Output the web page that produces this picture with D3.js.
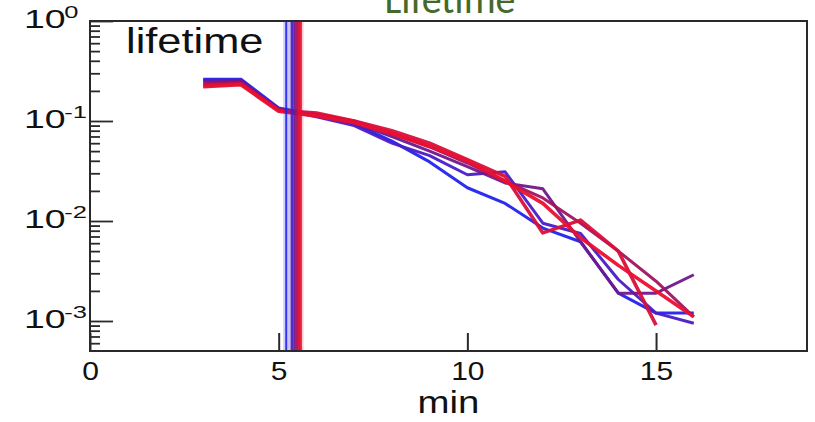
<!DOCTYPE html>
<html>
<head>
<meta charset="utf-8">
<script src="https://cdn.jsdelivr.net/npm/d3@7"></script>
<style>
  html, body { margin: 0; padding: 0; background: #fff; }
  svg { display: block; }
</style>
</head>
<body>
<div id="chart"></div>
<script>
// Lifetime distributions (fraction of events vs. lifetime in minutes), one run per array.
const minutes = [3, 4, 5, 6, 7, 8, 9, 10, 11, 12, 13, 14, 15, 16];
const runBlue    = [0.262, 0.262, 0.135, 0.115, 0.094, 0.063, 0.039, 0.0215, 0.015, 0.0085, 0.0062, 0.0019, 0.0012, 0.0012];
const runIndigo  = [0.255, 0.255, 0.132, 0.110, 0.090, 0.060, 0.045, 0.029, 0.031, 0.0095, 0.0075, 0.0026, 0.0012, 0.00095];
const runPurple  = [0.245, 0.250, 0.130, 0.115, 0.096, 0.070, 0.050, 0.035, 0.024, 0.021, 0.0062, 0.0019, 0.0019, 0.0029];
const runCrimson = [0.235, 0.240, 0.130, 0.117, 0.100, 0.075, 0.055, 0.038, 0.025, 0.017, 0.0095, 0.0050, 0.0025, 0.0011];
const runRed     = [0.225, 0.235, 0.128, 0.120, 0.100, 0.080, 0.060, 0.041, 0.028, 0.0076, 0.0102, 0.0050, 0.00091];
const runScarlet = [0.220, 0.230, 0.125, 0.112, 0.096, 0.075, 0.056, 0.040, 0.025, 0.015, 0.0068, 0.0036, 0.0020, 0.0011];
const runs = [runBlue, runIndigo, runPurple, runCrimson, runRed, runScarlet];
const runColors = ["#2222ee", "#4a1cc8", "#70188c", "#a0145e", "#d8103a", "#ea1030"];

// Mean lifetime of each run (minutes), drawn as vertical markers.
const meanLifetime = [5.2, 5.35, 5.42, 5.48, 5.53, 5.58];

const xTicks = [0, 5, 10, 15];
const yDecades = [0, -1, -2, -3];

const W = 815, H = 422;
const margin = { left: 90, right: 8, top: 21, bottom: 71 };

const svg = d3.select("#chart").append("svg")
  .attr("width", W).attr("height", H);

const x = d3.scaleLinear().domain([0, 19]).range([margin.left, W - margin.right]);
const y = d3.scaleLog().domain([Math.pow(10, -3.3), 1]).range([H - margin.bottom, margin.top]);

const axisColor = "#2a2a2a";
const labelFont = "'Liberation Sans', Arial, Helvetica, sans-serif";

// Page title, partly above the top edge
svg.append("text")
  .attr("x", 450).attr("y", 13)
  .attr("text-anchor", "middle")
  .attr("font-family", "Carlito, 'Open Sans', sans-serif")
  .attr("font-size", 40)
  .attr("fill", "#44692a")
  .text("Lifetime");

// Data runs
const line = d3.line()
  .x((d, i) => x(minutes[i]))
  .y(d => y(d));

svg.append("g").selectAll("path")
  .data(runs)
  .join("path")
  .attr("d", d => line(d))
  .attr("fill", "none")
  .attr("stroke", (d, i) => runColors[i])
  .attr("stroke-width", (d, i) => i >= 4 ? 3.6 : 3)
  .attr("stroke-linejoin", "round")
  .attr("stroke-opacity", 0.95);

// Mean-lifetime markers: soft halo plus a solid core
const markers = svg.append("g");
markers.selectAll("line.halo")
  .data(meanLifetime)
  .join("line")
  .attr("class", "halo")
  .attr("x1", d => x(d)).attr("x2", d => x(d))
  .attr("y1", margin.top).attr("y2", H - margin.bottom)
  .attr("stroke", (d, i) => runColors[i])
  .attr("stroke-width", 6)
  .attr("stroke-opacity", 0.22);
markers.selectAll("line.core")
  .data(meanLifetime)
  .join("line")
  .attr("class", "core")
  .attr("x1", d => x(d)).attr("x2", d => x(d))
  .attr("y1", margin.top).attr("y2", H - margin.bottom)
  .attr("stroke", (d, i) => runColors[i])
  .attr("stroke-width", (d, i) => i === 0 ? 2 : 2.6)
  .attr("stroke-opacity", 0.9);

// Frame
svg.append("rect")
  .attr("x", x(0)).attr("y", y.range()[1])
  .attr("width", x(19) - x(0))
  .attr("height", y.range()[0] - y.range()[1])
  .attr("fill", "none")
  .attr("stroke", axisColor)
  .attr("stroke-width", 2);

// Bottom axis: ticks point into the plot
const xAxis = d3.axisBottom(x).tickValues(xTicks).tickSize(-18).tickFormat("");
const gx = svg.append("g")
  .attr("transform", `translate(0,${H - margin.bottom})`)
  .call(xAxis);
gx.select(".domain").remove();
gx.selectAll(".tick line").attr("stroke", axisColor).attr("stroke-width", 2);

// X tick labels, slightly widened
gx.selectAll(".tick").append("g")
  .attr("transform", "translate(0,29) scale(1.2,1)")
  .append("text")
  .attr("text-anchor", "middle")
  .attr("font-family", labelFont)
  .attr("font-size", 25)
  .attr("fill", "#111")
  .text(d => d);

// Left axis: log ticks, majors longer, pointing inward
const yTickVals = [];
yDecades.forEach(e => {
  for (let k = 1; k <= 9; k++) {
    const v = k * Math.pow(10, e - 1);
    if (v >= y.domain()[0] * 0.999 && v <= 1.0001) yTickVals.push(v);
  }
});
yTickVals.push(1);
const isMajor = v => Math.abs(Math.log10(v) - Math.round(Math.log10(v))) < 1e-6;

const yAxis = d3.axisLeft(y).tickValues(yTickVals).tickSize(0).tickFormat("");
const gy = svg.append("g")
  .attr("transform", `translate(${margin.left},0)`)
  .call(yAxis);
gy.select(".domain").remove();
gy.selectAll(".tick line")
  .attr("x2", d => isMajor(d) ? 23 : 10)
  .attr("stroke", axisColor)
  .attr("stroke-width", 1.8);

// Y tick labels as powers of ten
const yLabels = svg.append("g");
yDecades.forEach(e => {
  const g = yLabels.append("g")
    .attr("transform", `translate(${margin.left - 66},${y(Math.pow(10, e)) + 7}) scale(1.5,1)`);
  const t = g.append("text")
    .attr("font-family", labelFont)
    .attr("font-size", 25)
    .attr("fill", "#111");
  t.append("tspan").text("10");
  t.append("tspan")
    .attr("font-size", 17)
    .attr("dy", -10)
    .attr("dx", -1)
    .text(e === 0 ? "0" : "-" + Math.abs(e));
});

// Axis title
svg.append("g")
  .attr("transform", `translate(${x(9.5)},${H - 9}) scale(1.2,1)`)
  .append("text")
  .attr("text-anchor", "middle")
  .attr("font-family", labelFont)
  .attr("font-size", 32)
  .attr("fill", "#111")
  .text("min");

// Panel label
svg.append("g")
  .attr("transform", `translate(126,53) scale(1.24,1)`)
  .append("text")
  .attr("font-family", labelFont)
  .attr("font-size", 35)
  .attr("fill", "#111")
  .text("lifetime");
</script>
</body>
</html>
